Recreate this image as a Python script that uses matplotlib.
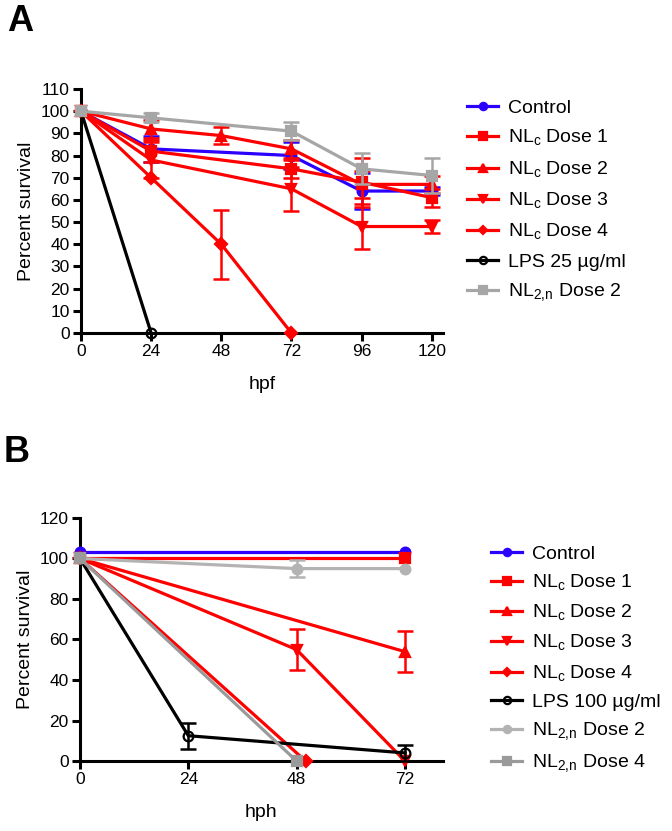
import numpy as np
import matplotlib
matplotlib.use("Agg")
import matplotlib.pyplot as plt

plt.rcParams["font.family"] = ["Liberation Sans", "DejaVu Sans"]
plt.rcParams["mathtext.fontset"] = "custom"
plt.rcParams["mathtext.rm"] = "Liberation Sans"

RED = "#ff0000"
BLUE = "#2b00ff"

# ---- Panel A data (hpf) ----
a_labels = ["Control", r"NL$_\mathrm{c}$ Dose 1", r"NL$_\mathrm{c}$ Dose 2",
            r"NL$_\mathrm{c}$ Dose 3", r"NL$_\mathrm{c}$ Dose 4",
            "LPS 25 µg/ml", r"NL$_\mathrm{2,\!n}$ Dose 2"]
a_x = [[0, 24, 72, 96, 120],
       [0, 24, 72, 96, 120],
       [0, 24, 48, 72, 96, 120],
       [0, 24, 72, 96, 120],
       [0, 24, 48, 72],
       [0, 24],
       [0, 24, 72, 96, 120]]
a_y = [[100, 83, 80, 64, 64],
       [100, 82, 74, 68, 61],
       [100, 92, 89, 83, 67, 67],
       [100, 78, 65, 48, 48],
       [100, 70, 40, 0],
       [100, 0],
       [100, 97, 91, 74, 71]]
a_err = [[0, 6, 6, 8, 2],
         [0, 5, 4, 11, 4],
         [0, 4, 4, 4, 6, 4],
         [0, 8, 10, 10, 3],
         [0, 0, 15.5, 0],
         [0, 0],
         [0, 2, 4, 7, 8]]

# ---- Panel B data (hph) ----
b_labels = ["Control", r"NL$_\mathrm{c}$ Dose 1", r"NL$_\mathrm{c}$ Dose 2",
            r"NL$_\mathrm{c}$ Dose 3", r"NL$_\mathrm{c}$ Dose 4",
            "LPS 100 µg/ml", r"NL$_\mathrm{2,\!n}$ Dose 2", r"NL$_\mathrm{2,\!n}$ Dose 4"]
b_x = [[0, 72],
       [0, 72],
       [0, 72],
       [0, 48, 72],
       [0, 50],
       [0, 24, 72],
       [0, 48, 72],
       [0, 48]]
b_y = [[103, 103],
       [100, 100],
       [100, 54],
       [100, 55, 0],
       [100, 0],
       [100, 12.5, 4],
       [100, 95, 95],
       [100, 0]]
b_err = [[0, 0],
         [0, 0],
         [0, 10],
         [0, 10, 0],
         [0, 0],
         [0, 6.5, 4],
         [0, 4, 0],
         [0, 0]]

a_styles = [(BLUE, "o", "full"), (RED, "s", "full"), (RED, "^", "full"),
            (RED, "v", "full"), (RED, "D", "full"), ("black", "o", "none"),
            ("#a6a6a6", "s", "full")]
b_styles = [(BLUE, "o", "full"), (RED, "s", "full"), (RED, "^", "full"),
            (RED, "v", "full"), (RED, "D", "full"), ("black", "o", "none"),
            ("#b3b3b3", "o", "full"), ("#9a9a9a", "s", "full")]


def draw_panel(ax, xs, ys, errs, styles, labels):
    handles = []
    for x, y, e, (c, m, fill), lab in zip(xs, ys, errs, styles, labels):
        x = np.array(x, float)
        y = np.array(y, float)
        e = np.array(e, float)
        ms = 6 if m == "D" else 7
        ln, = ax.plot(x, y, color=c, lw=2.3, marker=m, ms=ms,
                      fillstyle=fill, mew=1.6, clip_on=False, zorder=3, label=lab)
        mask = e > 0
        if mask.any():
            ax.errorbar(x[mask], y[mask], yerr=e[mask], fmt="none", ecolor=c,
                        elinewidth=1.8, capsize=6, capthick=1.8, clip_on=False, zorder=3)
        handles.append(ln)
    for s in ["top", "right"]:
        ax.spines[s].set_visible(False)
    for s in ["left", "bottom"]:
        ax.spines[s].set_linewidth(2.2)
    ax.tick_params(width=2.2, length=6, labelsize=12.5, pad=2)
    ax.set_ylabel("Percent survival", fontsize=14)
    return handles


fig = plt.figure(figsize=(6.72, 8.31), dpi=100)

axA = fig.add_axes([0.1205, 0.5993, 0.5385, 0.2936])
hA = draw_panel(axA, a_x, a_y, a_err, a_styles, a_labels)
axA.set_xlim(0, 123.8)
axA.set_ylim(0, 110)
axA.set_xticks([0, 24, 48, 72, 96, 120])
axA.set_yticks(np.arange(0, 111, 10))
axA.set_xlabel("hpf", fontsize=14, labelpad=12)
fig.legend(handles=hA, loc="upper left", bbox_to_anchor=(0.669, 0.9015),
           frameon=False, fontsize=14, handlelength=1.6, handletextpad=0.5,
           labelspacing=0.57, markerscale=0.75)

axB = fig.add_axes([0.119, 0.0842, 0.540, 0.2925])
hB = draw_panel(axB, b_x, b_y, b_err, b_styles, b_labels)
axB.set_xlim(0, 80.4)
axB.set_ylim(0, 120)
axB.set_xticks([0, 24, 48, 72])
axB.set_yticks(np.arange(0, 121, 20))
axB.set_xlabel("hph", fontsize=14, labelpad=12)
fig.legend(handles=hB, loc="upper left", bbox_to_anchor=(0.705, 0.365),
           frameon=False, fontsize=14, handlelength=1.6, handletextpad=0.5,
           labelspacing=0.51, markerscale=0.75)

fig.text(0.010, 0.9627, "A", fontsize=26, fontweight="bold", va="baseline")
fig.text(0.006, 0.444, "B", fontsize=26, fontweight="bold", va="baseline")

fig.savefig("out.png", dpi=100)
